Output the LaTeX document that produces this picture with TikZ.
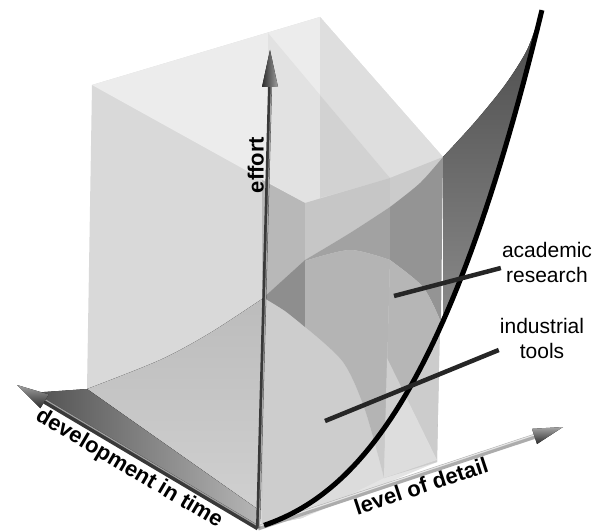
\documentclass[tikz,border=0pt]{standalone}
\usepackage{fontspec}
\setsansfont{Liberation Sans}
\usepackage{tikz}
\usetikzlibrary{arrows.meta, calc}

\definecolor{boxbase}{HTML}{D9D9D9}
\definecolor{topface}{HTML}{ECECEC}
\definecolor{topmid}{HTML}{E2E2E2}
\definecolor{topright}{HTML}{DEDEDE}
\definecolor{topdark}{HTML}{D2D2D2}
\definecolor{frontmid}{HTML}{B8B8B8}
\definecolor{slabA}{HTML}{C6C6C6}
\definecolor{slabB}{HTML}{CBCBCB}
\definecolor{deep}{HTML}{8E8E8E}
\definecolor{wedgeA}{HTML}{A2A2A2}
\definecolor{domeA}{HTML}{B4B4B4}
\definecolor{lowA}{HTML}{CDCDCD}
\definecolor{wedgeB}{HTML}{949494}
\definecolor{domeB}{HTML}{B6B6B6}
\definecolor{lowB}{HTML}{CFCFCF}
\definecolor{surfA}{HTML}{BCBCBC}
\definecolor{surfB}{HTML}{D0D0D0}
\definecolor{sheetTop}{HTML}{4A4A4A}
\definecolor{sheetBot}{HTML}{8A8A8A}
\definecolor{bandL}{HTML}{4F4F4F}
\definecolor{bandR}{HTML}{B5B5B5}

\begin{document}
\begin{tikzpicture}[x=1pt, y=-1pt,
  axislabel/.style={font=\sffamily\bfseries\fontsize{22}{26}\selectfont, inner sep=0pt},
  tag/.style={font=\sffamily\fontsize{21}{25}\selectfont, align=center, inner sep=1pt},
  leader/.style={line width=4.5pt, black!85},
  shaft/.style={line width=5pt}]

\useasboundingbox (0,0) rectangle (608,532);

% Axis end points
\coordinate (O) at (258,528);
\coordinate (efftip) at (270,50);
\coordinate (effbase) at (270,87);
\coordinate (timetip) at (17,385);
\coordinate (timebase) at (44.5,401.3);
\coordinate (dettip) at (563,427);
\coordinate (detbase) at (534.5,436.4);

% Box silhouette
\fill[boxbase] (92,85) -- (320,17) -- (443,157) -- (437,462) -- (302,518) -- (262,526) -- (256,508) -- (87,389) -- cycle;

% Top face
\fill[topface] (92,85) -- (320,17) -- (443,157) -- (305,203) -- cycle;
\fill[topmid] (268,33) -- (320,95) -- (320,198) -- (305,203) -- (268,182) -- cycle;
\fill[topright] (320,17) -- (443,157) -- (390,178) -- (320,95) -- cycle;
\fill[topdark] (320,95) -- (390,178) -- (320,198) -- cycle;

% Sheet seen through the left face
\fill[top color=surfA, bottom color=surfB] plot[smooth] coordinates {(87,389) (160,360) (210,333) (262,299)} -- (262,510) -- (256,508) -- cycle;

% Front faces above the back curve
\fill[frontmid] (262,180) -- (305,203) -- (305,260) -- (262,299) -- cycle;
\fill[slabA] (305,203) -- (390,178) -- (390,207) -- plot[smooth] coordinates {(390,207) (350,233) (305,260)} -- cycle;
\fill[slabB] (390,178) -- (443,157) -- plot[smooth] coordinates {(443,157) (420,183) (390,207)} -- cycle;

% Industrial slab
\fill[lowA] (264,298) -- plot[smooth] coordinates {(264,298) (285,311) (305,327) (343,362) (365,410) (384,478)} -- (302,518) -- (262,526) -- cycle;
\fill[deep] (262,299) -- (305,260) -- (305,327) -- plot[smooth] coordinates {(305,327) (285,311) (264,298)} -- cycle;
\fill[wedgeA] plot[smooth] coordinates {(305,260) (350,233) (390,207)} -- (390,260) -- plot[smooth] coordinates {(390,260) (350,250) (305,261)} -- cycle;
\fill[domeA] plot[smooth] coordinates {(305,261) (350,250) (390,260)} -- (384,478) -- plot[smooth] coordinates {(384,478) (365,410) (343,362) (305,327)} -- cycle;

% Academic slab
\fill[wedgeB] plot[smooth] coordinates {(390,207) (420,183) (443,157)} -- (441,320) -- plot[smooth] coordinates {(440,320) (423,287) (390,260)} -- cycle;
\fill[domeB] plot[smooth] coordinates {(390,260) (423,287) (440,320)} -- (437,462) -- (384,478) -- cycle;
\fill[lowB] (387,358) -- (437,460) -- (384,478) -- cycle;

% Sheet outside the box
\fill[top color=sheetTop, bottom color=sheetBot] plot[smooth] coordinates {(443,157) (475,122) (505,85) (527,50) (541,12)} -- plot[domain=2.8:1.81, samples=30] ({262+100*\x},{526-33.1*\x-26.3*\x*\x-9.9*\x*\x*\x}) -- cycle;

% Box where the sheet has ended
\begin{scope}
  \clip (92,85) -- (320,17) -- (443,157) -- (437,462) -- (302,518) -- (262,526) -- (256,508) -- (87,389) -- cycle;
  \fill[white, opacity=0.3] plot[domain=0:2.8, samples=40] ({262+100*\x},{526-33.1*\x-26.3*\x*\x-9.9*\x*\x*\x}) -- (608,0) -- (608,532) -- (262,532) -- cycle;
\end{scope}

% Band along the time axis
\fill[left color=bandL, right color=bandR] (30,393) -- (87,389) -- (256,508) -- (258,528) -- cycle;

% Axes
\draw[shaft, gray!45!black] (O) -- (timebase);
\draw[line width=1.2pt, gray!75] ($(O)+(0,-2)$) -- ($(timebase)+(0,-2)$);
\fill[top color=gray!75, bottom color=gray!35!black] (40.4,408.2) -- (timetip) -- (48.6,394.4) -- cycle;

\draw[shaft, gray!65] (O) -- (detbase);
\draw[line width=1.2pt, gray!20] ($(O)+(0,-1.5)$) -- ($(detbase)+(0,-1.5)$);
\fill[top color=gray!70, bottom color=gray!35!black] (537,444) -- (dettip) -- (532,428.8) -- cycle;

\draw[line width=4pt, gray!45!black] (O) -- (effbase);
\draw[line width=1pt, gray!70] ($(O)+(1.2,0)$) -- ($(effbase)+(1.2,0)$);
\fill[left color=gray!35!black, right color=gray!75] (262,87) -- (efftip) -- (278,87) -- cycle;

% Effort curve
\draw[line width=5pt, black] plot[domain=0.02:2.8, samples=60] ({262+100*\x},{526-33.1*\x-26.3*\x*\x-9.9*\x*\x*\x});

% Axis labels
\node[axislabel, rotate=90, anchor=south] (efflab) at (264,165) {effort};
\node[axislabel, rotate=-30.7] (timelab) at (129,469) {development in time};
\node[axislabel, rotate=18.3] (detlab) at (421,486) {level of detail};

% Regions
\coordinate (acadend) at (394,296);
\coordinate (indend) at (325,421);
\node[tag] (acad) at (547,262) {academic\\research};
\node[tag] (ind) at (542,338) {industrial\\tools};
\draw[leader] ([yshift=-6pt]acad.west) -- (acadend);
\draw[leader] ([yshift=-12pt]ind.west) -- (indend);
\end{tikzpicture}
\end{document}
